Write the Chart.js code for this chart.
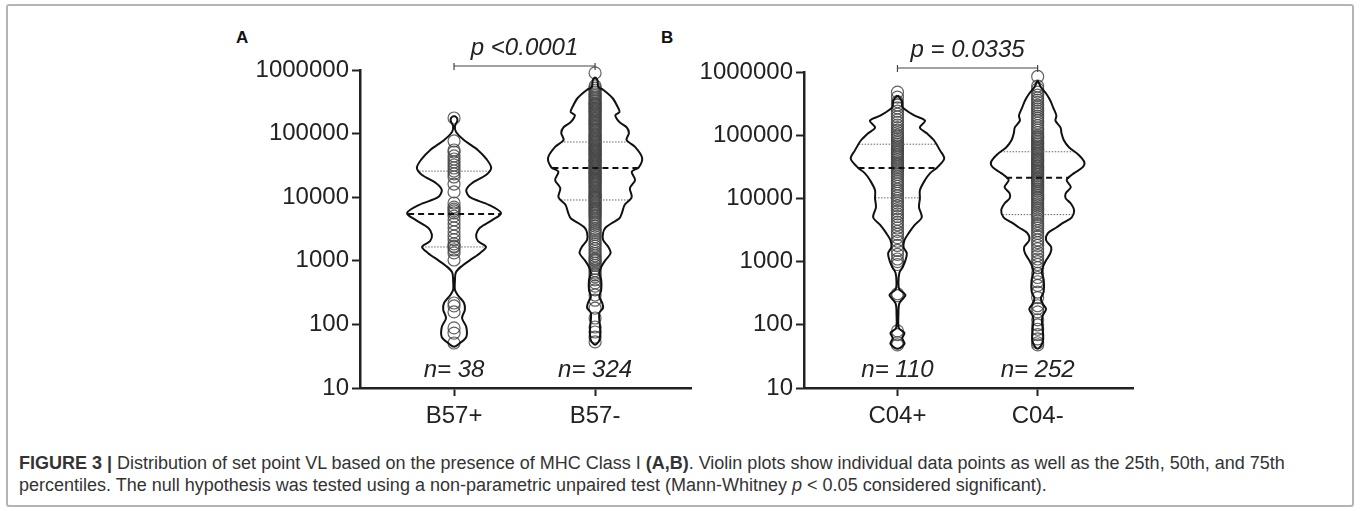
<!DOCTYPE html>
<html>
<head>
<meta charset="utf-8">
<script src="https://cdn.jsdelivr.net/npm/chart.js@4.4.1/dist/chart.umd.min.js"></script>
<style>
  body { margin: 0; background: #fff; width: 1360px; height: 511px; overflow: hidden; position: relative;
         font-family: "Liberation Sans", Arial, sans-serif; }
  #frame { position: absolute; left: 6px; top: 4px; width: 1344px; height: 499px;
           border: 2px solid #b4b4b4; border-radius: 3px; }
  canvas { position: absolute; }
  .panel { position: absolute; font: bold 17px "Liberation Sans", Arial, sans-serif; color: #111; line-height: 17px; }
  #caption { position: absolute; left: 19px; top: 452px; font-size: 18px; line-height: 22px; color: #333; white-space: nowrap; }
</style>
</head>
<body>
<div id="frame"></div>
<div class="panel" style="left:236px; top:29px;">A</div>
<div class="panel" style="left:661px; top:29px;">B</div>
<canvas id="chartA" width="520" height="420" style="left:200px; top:20px;"></canvas>
<canvas id="chartB" width="520" height="420" style="left:640px; top:20px;"></canvas>
<div id="caption"><b>FIGURE 3 |</b> Distribution of set point VL based on the presence of MHC Class I <b>(A,B)</b>. Violin plots show individual data points as well as the 25th, 50th, and 75th<br>percentiles. The null hypothesis was tested using a non-parametric unpaired test (Mann-Whitney <i>p</i> &lt; 0.05 considered significant).</div>
<script>
// categories and labels
const catsA = ["B57+", "B57-"];
const catsB = ["C04+", "C04-"];
const countsA = [38, 324];
const countsB = [110, 252];
const pTextA = "p <0.0001";
const pTextB = "p = 0.0335";
const yTicks = [10, 100, 1000, 10000, 100000, 1000000];

// set point VL of individual subjects
const b57pos = [176000, 76600, 55200, 51400, 44500, 39900, 35800, 32100, 28800, 25800, 23200, 20800,
  16100, 12100, 8100, 7000, 6500, 6100, 5650, 5050, 4400, 3800, 3300, 2850, 2450, 2150, 1850, 1700,
  1650, 1480, 1330, 1030, 217, 195, 157, 88, 73, 51];
const b57neg = [900000, 560000, 520000, 480000, 450000, 420000, 400000, 380000, 360000, 340000, 320000, 300000,
  290000, 280000, 265000, 250000, 240000, 230000, 220000, 210000, 200000, 190000, 180000, 172000, 165000,
  158000, 150000, 143000, 136000, 130000, 124000, 118000, 112000, 106000, 100000,
  96000, 92000, 88000, 84000, 80000, 77000, 74000, 71000, 68000, 65000, 62000, 60000, 58000, 56000, 54000,
  52000, 50000, 48000, 46000, 44000, 42000, 40000, 38500, 37000, 35500, 34000, 32500, 31000, 30000,
  29000, 28000, 27000, 26000, 25000, 24000, 23000, 22000, 21000, 20000, 19200, 18400, 17600, 16800, 16000,
  15200, 14500, 13800, 13100, 12500, 11900, 11300, 10800, 10300, 10000,
  9600, 9200, 8800, 8400, 8000, 7600, 7200, 6800, 6500, 6200, 5900, 5600, 5300, 5000, 4700, 4400, 4100,
  3800, 3500, 3200, 3000, 2800, 2600, 2400, 2200, 2000, 1850, 1700, 1550, 1400, 1300, 1200, 1100, 1050, 1000,
  920, 850, 760, 700, 640, 600, 560, 500, 450, 400, 350, 290, 240, 180, 126, 91, 76, 63, 53];
const c04pos = [480000, 400000, 340000, 300000, 270000, 240000, 215000, 195000, 175000, 160000, 145000, 132000,
  120000, 110000, 100000, 94000, 88000, 82000, 77000, 72000, 68000, 64000, 60000, 56000, 53000, 50000, 47000,
  44000, 41000, 38000, 36000, 34000, 32000, 30000, 28000, 26000, 24000, 22000, 20000, 18500, 17000, 15500,
  14000, 13000, 12000, 11000, 10000, 9200, 8400, 7600, 6900, 6300, 5700, 5200, 4700, 4200, 3800, 3400, 3000,
  2700, 2400, 2100, 1800, 1500, 1300, 1100, 1000, 900, 310, 290, 80, 70, 52, 48];
const c04neg = [850000, 600000, 540000, 480000, 430000, 390000, 360000, 330000, 300000, 280000, 260000, 240000,
  220000, 200000, 185000, 170000, 155000, 142000, 130000, 120000, 110000, 100000,
  95000, 90000, 85000, 80000, 76000, 72000, 68000, 64000, 61000, 58000, 55000, 52000, 49000, 46000, 43000,
  41000, 39000, 37000, 35000, 33000, 31500, 30000, 28500, 27000, 25500, 24000, 22500, 21000, 20000, 19000,
  18000, 17000, 16000, 15000, 14000, 13000, 12000, 11200, 10500, 10000, 9400, 8800, 8200, 7600, 7000, 6500,
  6000, 5600, 5200, 4800, 4400, 4000, 3700, 3400, 3100, 2800, 2500, 2200, 2000, 1800, 1600, 1400, 1250, 1100,
  1000, 900, 800, 650, 560, 480, 420, 330, 270, 200, 180, 160, 120, 100, 85, 70, 60, 52, 48];

// 25th, 50th, 75th percentiles
const quartB57pos = [1650, 5450, 25700];
const quartB57neg = [9040, 28800, 73800];
const quartC04pos = [10200, 30200, 72000];
const quartC04neg = [5540, 21300, 54700];

// violin density: log10(VL) levels and relative width (1 = widest)
const b57posLevels = [5.28, 5.25, 5.20, 5.12, 5.03, 4.90, 4.74, 4.59, 4.46, 4.35, 4.22, 4.11, 4.00, 3.88, 3.75, 3.64,
  3.52, 3.41, 3.31, 3.22, 3.12, 3.01, 2.92, 2.82, 2.70, 2.54, 2.45, 2.34, 2.23, 2.10, 1.96, 1.80, 1.71, 1.65];
const b57posDens = [0, 0.06, 0.07, 0.02, 0.04, 0.21, 0.51, 0.70, 0.79, 0.68, 0.38, 0.26, 0.34, 0.74, 1.0, 0.81,
  0.55, 0.47, 0.51, 0.68, 0.55, 0.34, 0.17, 0.04, 0.02, 0.02, 0.09, 0.21, 0.23, 0.17, 0.26, 0.26, 0.13, 0];
const b57negLevels = [5.89, 5.84, 5.73, 5.69, 5.56, 5.42, 5.34, 5.29, 5.18, 5.10, 5.01, 4.90, 4.79, 4.62, 4.47, 4.40,
  4.27, 4.14, 4.00, 3.88, 3.75, 3.67, 3.59, 3.52, 3.44, 3.33, 3.22, 3.12, 3.01, 2.93, 2.81, 2.70, 2.54, 2.43,
  2.34, 2.26, 2.18, 2.07, 1.91, 1.75, 1.68];
const b57negDens = [0, 0.05, 0.07, 0.17, 0.37, 0.48, 0.52, 0.43, 0.52, 0.67, 0.72, 0.67, 0.85, 1.0, 0.93, 0.78,
  0.85, 0.74, 0.78, 0.63, 0.57, 0.52, 0.35, 0.22, 0.17, 0.17, 0.28, 0.33, 0.22, 0.15, 0.09, 0.13, 0.13, 0.09,
  0.15, 0.17, 0.09, 0.09, 0.11, 0.09, 0];
const c04posLevels = [5.63, 5.55, 5.44, 5.31, 5.23, 5.12, 5.03, 4.92, 4.76, 4.63, 4.49, 4.40, 4.29, 4.13, 4.00, 3.86,
  3.70, 3.58, 3.45, 3.34, 3.23, 3.13, 3.02, 2.91, 2.82, 2.66, 2.56, 2.47, 2.34, 2.15, 1.95, 1.87, 1.79, 1.70, 1.62];
const c04posDens = [0, 0.09, 0.11, 0.37, 0.59, 0.48, 0.63, 0.78, 0.91, 1.0, 0.85, 0.70, 0.59, 0.48, 0.48, 0.46,
  0.52, 0.37, 0.24, 0.15, 0.13, 0.20, 0.17, 0.11, 0.04, 0.02, 0.04, 0.17, 0.04, 0.02, 0.03, 0.15, 0.10, 0.15, 0];
const c04negLevels = [5.87, 5.76, 5.66, 5.55, 5.44, 5.31, 5.23, 5.12, 5.03, 4.92, 4.81, 4.68, 4.57, 4.49, 4.40, 4.29,
  4.18, 4.08, 4.00, 3.92, 3.81, 3.70, 3.62, 3.54, 3.45, 3.34, 3.23, 3.13, 3.02, 2.91, 2.82, 2.71, 2.53, 2.42,
  2.33, 2.25, 2.15, 2.06, 1.92, 1.73, 1.62];
const c04negDens = [0, 0.07, 0.18, 0.27, 0.33, 0.40, 0.38, 0.49, 0.51, 0.56, 0.67, 0.89, 1.0, 0.96, 0.78, 0.62,
  0.71, 0.60, 0.60, 0.71, 0.78, 0.73, 0.56, 0.40, 0.22, 0.18, 0.29, 0.27, 0.18, 0.11, 0.09, 0.13, 0.13, 0.07,
  0.11, 0.18, 0.11, 0.09, 0.11, 0.11, 0];

const CAT_X = [1, 2.5];
const HALF = 0.5;
const FONT = '"Liberation Sans", Arial, sans-serif';

function widthAt(levels, dens, lv) {
  for (let i = 0; i < levels.length - 1; i++) {
    const a = levels[i], b = levels[i + 1];
    if (lv <= a && lv >= b) {
      const t = (a - lv) / (a - b);
      return dens[i] + (dens[i + 1] - dens[i]) * t;
    }
  }
  return 0;
}

function outline(cx, levels, dens) {
  const right = levels.map((l, i) => ({ x: cx + dens[i] * HALF, y: Math.pow(10, l) }));
  const left = levels.map((l, i) => ({ x: cx - dens[i] * HALF, y: Math.pow(10, l) })).reverse();
  return right.concat(left.slice(1));
}

function makeDatasets(groups) {
  const ds = [];
  groups.forEach((g, gi) => {
    const cx = CAT_X[gi];
    ds.push({
      type: "line", data: outline(cx, g.levels, g.dens), borderColor: "#111", borderWidth: 2,
      pointRadius: 0, tension: 0.3, fill: false, clip: false
    });
    g.quart.forEach((q, qi) => {
      const w = widthAt(g.levels, g.dens, Math.log10(q)) * HALF;
      ds.push({
        type: "line", data: [{ x: cx - w, y: q }, { x: cx + w, y: q }],
        borderColor: qi === 1 ? "#111" : "#666", borderWidth: qi === 1 ? 2 : 1,
        borderDash: qi === 1 ? [6, 4] : [1.5, 1.5], pointRadius: 0, fill: false
      });
    });
    ds.push({
      type: "scatter", data: g.points.map((v) => ({ x: cx, y: v })), pointRadius: 6,
      pointBorderWidth: 1.2, pointBorderColor: "rgba(70,70,70,0.85)",
      pointBackgroundColor: "rgba(0,0,0,0)", showLine: false, clip: false
    });
  });
  return ds;
}

const annot = {
  id: "annot",
  afterDraw(chart, args, opts) {
    const { ctx } = chart;
    const x = chart.scales.x, y = chart.scales.y;
    ctx.save();
    ctx.fillStyle = "#222";
    ctx.font = "italic 24px " + FONT;
    ctx.textAlign = "center";
    ctx.textBaseline = "alphabetic";
    opts.counts.forEach((n, i) => ctx.fillText("n= " + n, x.getPixelForValue(CAT_X[i]), y.bottom - 11));
    const x1 = x.getPixelForValue(CAT_X[0]), x2 = x.getPixelForValue(CAT_X[1]);
    const by = y.top - 4;
    ctx.strokeStyle = "#444";
    ctx.lineWidth = 1.2;
    ctx.beginPath();
    ctx.moveTo(x1, by); ctx.lineTo(x2, by);
    ctx.moveTo(x1, by - 3); ctx.lineTo(x1, by + 4);
    ctx.moveTo(x2, by - 3); ctx.lineTo(x2, by + 4);
    ctx.stroke();
    ctx.fillText(opts.p, (x1 + x2) / 2, by - 11);
    ctx.restore();
  }
};

function makeChart(id, cats, groups, counts, pText, pad, yWidth) {
  const axisGrid = { drawOnChartArea: false, drawTicks: true, tickLength: 8, tickWidth: 2, tickColor: "#222" };
  const axisBorder = { color: "#222", width: 2.5 };
  return new Chart(document.getElementById(id), {
    type: "scatter",
    data: { datasets: makeDatasets(groups) },
    plugins: [annot],
    options: {
      responsive: false,
      animation: false,
      layout: { padding: pad },
      plugins: {
        legend: { display: false },
        tooltip: { enabled: false },
        annot: { counts: counts, p: pText }
      },
      scales: {
        x: {
          type: "linear", min: 0, max: 3.52,
          afterBuildTicks: (s) => { s.ticks = CAT_X.map((v) => ({ value: v })); },
          afterFit: (s) => { s.height = 52; },
          ticks: {
            callback: (v) => cats[CAT_X.indexOf(v)], autoSkip: false, maxRotation: 0,
            font: { family: FONT, size: 24 }, color: "#222", padding: 6
          },
          grid: axisGrid, border: axisBorder
        },
        y: {
          type: "logarithmic", min: 10, max: 1000000,
          afterBuildTicks: (s) => { s.ticks = yTicks.map((v) => ({ value: v })); },
          afterFit: (s) => { s.width = yWidth; },
          ticks: { callback: (v) => String(v), font: { family: FONT, size: 24 }, color: "#222", padding: 3 },
          grid: axisGrid, border: axisBorder
        }
      }
    }
  });
}

makeChart("chartA", catsA, [
  { points: b57pos, quart: quartB57pos, levels: b57posLevels, dens: b57posDens },
  { points: b57neg, quart: quartB57neg, levels: b57negLevels, dens: b57negDens }
], countsA, pTextA, { top: 50, right: 29, bottom: 0, left: 0 }, 160);

makeChart("chartB", catsB, [
  { points: c04pos, quart: quartC04pos, levels: c04posLevels, dens: c04posDens },
  { points: c04neg, quart: quartC04neg, levels: c04negLevels, dens: c04negDens }
], countsB, pTextB, { top: 52, right: 27, bottom: 0, left: 0 }, 164);
</script>
</body>
</html>
